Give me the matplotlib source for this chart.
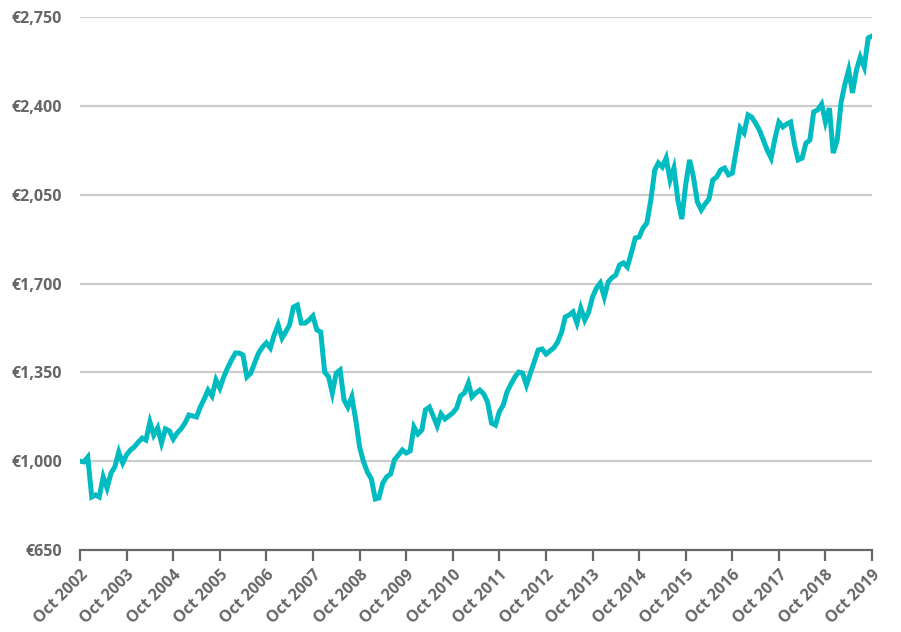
import numpy as np
import pandas as pd
import matplotlib
matplotlib.use("Agg")
import matplotlib.pyplot as plt

# monthly value of the portfolio, from Oct 2002 to Oct 2019 (EUR)
values = [
    1000, 997, 1016, 859, 867, 859, 938, 894, 953, 977, 1036, 993,
    1025, 1044, 1056, 1075, 1091, 1083, 1154, 1103, 1131, 1072, 1127, 1119,
    1087, 1111, 1127, 1150, 1182, 1178, 1174, 1213, 1245, 1280, 1257, 1320,
    1288, 1332, 1367, 1399, 1426, 1426, 1418, 1332, 1347, 1387, 1426, 1450,
    1466, 1446, 1497, 1537, 1485, 1509, 1537, 1607, 1615, 1544, 1544, 1556,
    1572, 1517, 1509, 1351, 1332, 1269, 1347, 1359, 1241, 1213, 1253, 1162,
    1056, 997, 957, 930, 851, 855, 914, 938, 949, 1005, 1024, 1044,
    1032, 1040, 1135, 1107, 1123, 1202, 1213, 1178, 1139, 1186, 1166, 1178,
    1190, 1209, 1257, 1269, 1308, 1253, 1269, 1280, 1265, 1233, 1150, 1142,
    1194, 1221, 1273, 1304, 1332, 1351, 1347, 1300, 1347, 1391, 1438, 1442,
    1422, 1434, 1446, 1470, 1509, 1568, 1576, 1588, 1544, 1603, 1556, 1588,
    1647, 1682, 1702, 1647, 1706, 1722, 1733, 1773, 1781, 1765, 1820, 1879,
    1883, 1919, 1938, 2029, 2147, 2175, 2159, 2194, 2108, 2155, 2029, 1954,
    2088, 2187, 2120, 2021, 1990, 2013, 2033, 2108, 2120, 2147, 2155, 2128,
    2135, 2226, 2313, 2293, 2364, 2356, 2332, 2305, 2265, 2226, 2194, 2273,
    2336, 2317, 2328, 2336, 2246, 2187, 2194, 2253, 2265, 2376, 2384, 2407,
    2336, 2391, 2214, 2265, 2415, 2482, 2541, 2451, 2541, 2592, 2553, 2667,
    2675,
]
dates = pd.date_range("2002-10-01", periods=len(values), freq="MS")

y_ticks = [650, 1000, 1350, 1700, 2050, 2400, 2750]
x_years = list(range(2002, 2020))

plt.rcParams["font.family"] = ["Open Sans", "DejaVu Sans"]
grey = "#666666"

fig = plt.figure(figsize=(9.01, 6.32), dpi=100)
ax = fig.add_axes([80 / 901, 1 - 550 / 632, (872 - 80) / 901, (550 - 17) / 632])

ax.plot(dates, values, color="#00BCC0", linewidth=3.6, solid_joinstyle="miter", zorder=3)

ax.set_ylim(650, 2750)
ax.set_yticks(y_ticks)
ax.set_yticklabels([f"€{v:,}" for v in y_ticks])
ax.set_xlim(pd.Timestamp("2002-10-01"), pd.Timestamp("2019-10-01"))
xt = [pd.Timestamp(f"{y}-10-01") for y in x_years]
ax.set_xticks(xt)
ax.set_xticklabels([f"Oct {y}" for y in x_years], rotation=45, ha="right",
                   va="top", rotation_mode="anchor")

for v in y_ticks[1:]:
    ax.axhline(v, color="#cccccc", linewidth=1.6, zorder=1)

for s in ["left", "right", "top"]:
    ax.spines[s].set_visible(False)
ax.spines["bottom"].set_color(grey)
ax.spines["bottom"].set_linewidth(1.6)

ax.tick_params(axis="y", length=0, pad=13, labelsize=11.5, labelcolor=grey)
ax.tick_params(axis="x", length=8, width=1.6, color=grey, pad=4,
               labelsize=11.5, labelcolor=grey)
for lab in ax.get_xticklabels() + ax.get_yticklabels():
    lab.set_fontweight("bold")

fig.savefig("out.png", dpi=100)
